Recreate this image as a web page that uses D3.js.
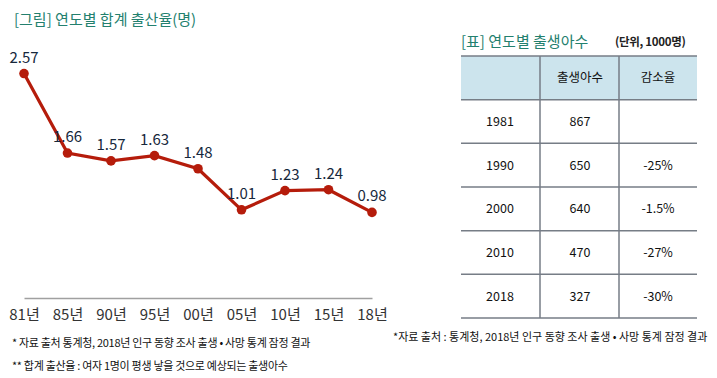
<!DOCTYPE html>
<html>
<head>
<meta charset="utf-8">
<script src="https://cdn.jsdelivr.net/npm/d3@7"></script>
<style>
  body { margin: 0; background: #fff; }
  svg { font-family: "Noto Sans CJK KR", "Noto Sans", sans-serif; }
</style>
</head>
<body>
<div id="chart"></div>
<script>
// line chart data
const years = ["81년", "85년", "90년", "95년", "00년", "05년", "10년", "15년", "18년"]
const rates = [2.57, 1.66, 1.57, 1.63, 1.48, 1.01, 1.23, 1.24, 0.98]

// table data
const tableHead = ["", "출생아수", "감소율"]
const tableYears = ["1981", "1990", "2000", "2010", "2018"]
const births = ["867", "650", "640", "470", "327"]
const declines = ["", "-25%", "-1.5%", "-27%", "-30%"]

const W = 717, H = 378
const svg = d3.select("#chart").append("svg")
  .attr("width", W)
  .attr("height", H)

const teal = "#23806e"
const red = "#b51c0b"

// titles
svg.append("text")
  .attr("x", 14).attr("y", 25)
  .attr("font-size", "15px")
  .attr("fill", teal)
  .text("[그림] 연도별 합계 출산율(명)")

// scales
const x = d3.scalePoint().domain(years).range([24, 372])
const y = d3.scaleLinear().domain([0, 3]).range([298, 36])

// x axis
const xAxis = svg.append("g")
  .attr("transform", "translate(0,298)")
  .call(d3.axisBottom(x).tickSize(0).tickPadding(11))
xAxis.select(".domain").attr("stroke", "#a0a0a0").attr("stroke-width", 1.5)
xAxis.selectAll("text")
  .attr("font-size", "15px")
  .attr("fill", "#333")
  .style("font-family", "'Noto Sans CJK KR', sans-serif")

// line
const line = d3.line().x((d, i) => x(years[i])).y(d => y(d))
svg.append("path")
  .datum(rates)
  .attr("fill", "none")
  .attr("stroke", red)
  .attr("stroke-width", 3.2)
  .attr("d", line)

svg.selectAll("circle.pt")
  .data(rates)
  .enter().append("circle")
  .attr("class", "pt")
  .attr("cx", (d, i) => x(years[i]))
  .attr("cy", d => y(d))
  .attr("r", 4.8)
  .attr("fill", red)

svg.selectAll("text.lbl")
  .data(rates)
  .enter().append("text")
  .attr("class", "lbl")
  .attr("x", (d, i) => x(years[i]))
  .attr("y", d => y(d) - 11)
  .attr("text-anchor", "middle")
  .attr("font-size", "15px")
  .attr("fill", "#16283c")
  .text(d => d.toFixed(2))

// footnotes
svg.append("text")
  .attr("x", 12).attr("y", 347)
  .attr("font-size", "11px")
  .attr("letter-spacing", "-0.3px")
  .attr("fill", "#111")
  .text("* 자료 출처 통계청,  2018년 인구 동향 조사 출생 • 사망 통계 잠정 결과")
svg.append("text")
  .attr("x", 12).attr("y", 370)
  .attr("font-size", "11px")
  .attr("letter-spacing", "-0.3px")
  .attr("fill", "#111")
  .text("** 합계 출산율 : 여자 1명이 평생 낳을 것으로 예상되는 출생아수")

// table
svg.append("text")
  .attr("x", 461).attr("y", 47)
  .attr("font-size", "15px")
  .attr("fill", teal)
  .text("[표] 연도별 출생아수")
svg.append("text")
  .attr("x", 615).attr("y", 46)
  .attr("font-size", "11.5px")
  .attr("font-weight", "bold")
  .attr("letter-spacing", "-0.3px")
  .attr("fill", "#222")
  .text("(단위, 1000명)")

const rows = ["head"].concat(tableYears)
const ry = d3.scaleBand().domain(rows).range([56, 318])
const colEdges = [461, 540, 619, 697]
const cx = d3.scaleOrdinal().domain([0, 1, 2]).range([500, 580, 658])

svg.append("rect")
  .attr("x", colEdges[0]).attr("y", ry("head"))
  .attr("width", colEdges[3] - colEdges[0])
  .attr("height", ry.bandwidth())
  .attr("fill", "#cce4ed")

const grid = svg.append("g").attr("stroke", "#767d86").attr("stroke-width", 1.5)
rows.concat(["end"]).forEach((r, i) => {
  const yy = i < rows.length ? ry(r) : ry.range()[1]
  grid.append("line")
    .attr("x1", colEdges[0]).attr("x2", colEdges[3])
    .attr("y1", yy).attr("y2", yy)
})
colEdges.slice(1, 3).forEach(cxv => {
  grid.append("line")
    .attr("x1", cxv).attr("x2", cxv)
    .attr("y1", ry("head")).attr("y2", ry.range()[1])
})

const cells = []
tableHead.forEach((t, j) => cells.push({ r: "head", c: j, t: t }))
tableYears.forEach((yr, i) => {
  cells.push({ r: yr, c: 0, t: yr })
  cells.push({ r: yr, c: 1, t: births[i] })
  cells.push({ r: yr, c: 2, t: declines[i] })
})
svg.selectAll("text.cell")
  .data(cells)
  .enter().append("text")
  .attr("class", "cell")
  .attr("x", d => cx(d.c))
  .attr("y", d => ry(d.r) + ry.bandwidth() / 2)
  .attr("dy", "0.35em")
  .attr("text-anchor", "middle")
  .attr("font-size", "12.5px")
  .attr("fill", "#111")
  .text(d => d.t)

svg.append("text")
  .attr("x", 393).attr("y", 341)
  .attr("font-size", "11px")
  .attr("fill", "#111")
  .text("*자료 출처 : 통계청,  2018년 인구 동향 조사 출생 • 사망 통계 잠정 결과")
</script>
</body>
</html>
